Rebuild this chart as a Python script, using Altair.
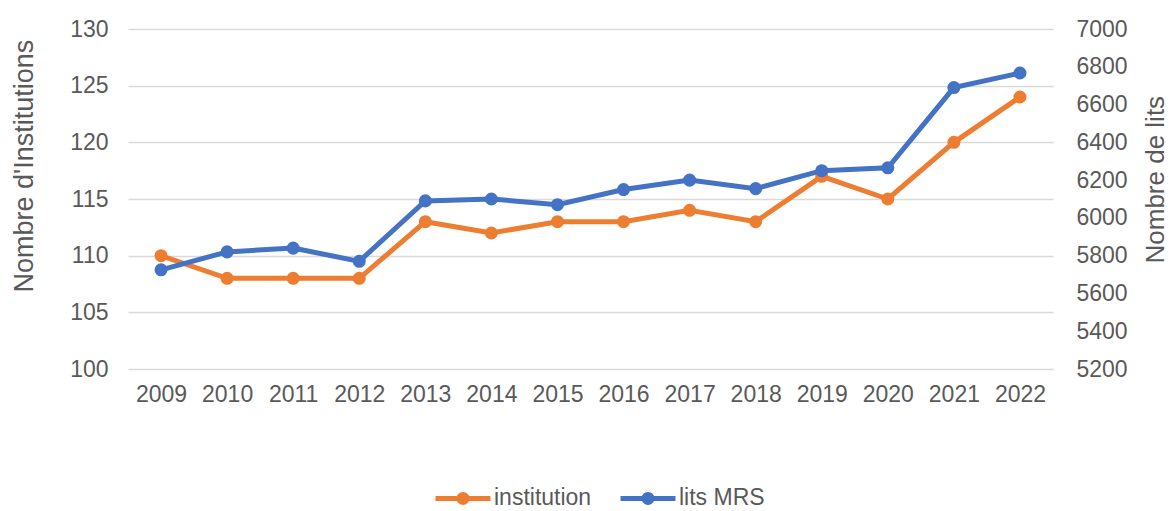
import altair as alt
import pandas as pd

years = ["2009", "2010", "2011", "2012", "2013", "2014", "2015",
         "2016", "2017", "2018", "2019", "2020", "2021", "2022"]
institution = [110, 108, 108, 108, 113, 112, 113, 113, 114, 113, 117, 115, 120, 124]
lits_mrs = [5725, 5820, 5840, 5770, 6090, 6100, 6070, 6150, 6200, 6155, 6250, 6265, 6690, 6767]

series_names = ["institution", "lits MRS"]
series_colors = ["#ED7D31", "#4472C4"]

df = pd.DataFrame({"year": years, "institution": institution, "lits MRS": lits_mrs})
long = df.melt(id_vars="year", var_name="series", value_name="value")

FONT = "Liberation Sans"
TXT = "#595959"

x_enc = alt.X("year:N", title=None, sort=years,
              scale=alt.Scale(type="point", padding=0.5),
              axis=alt.Axis(domain=False, ticks=False, labelAngle=0,
                            labelFontSize=23, labelColor=TXT, labelFont=FONT,
                            labelPadding=14, grid=False))

color_enc = alt.Color("series:N",
                      scale=alt.Scale(domain=series_names, range=series_colors),
                      legend=alt.Legend(title=None, orient="none", direction="horizontal",
                                        legendX=323, legendY=457,
                                        symbolType="M-3,0L3,0M-0.44,0A0.44,0.44,0,1,0,0.44,0A0.44,0.44,0,1,0,-0.44,0Z",
                                        symbolSize=336, symbolStrokeWidth=5,
                                        labelFontSize=23, labelColor=TXT, labelFont=FONT,
                                        labelOffset=19, columnPadding=18))

left_axis = alt.Axis(values=list(range(100, 131, 5)), domain=False, ticks=False,
                     labelFontSize=23, labelColor=TXT, labelFont=FONT, labelPadding=20,
                     grid=True, gridColor="#D9D9D9", gridWidth=1.5,
                     title="Nombre d'Institutions", titleFontSize=27, titleColor=TXT,
                     titleFont=FONT, titleFontWeight="normal",
                     titleAngle=270, titleAlign="left", titleBaseline="middle",
                     titleX=-104, titleY=263)

right_axis = alt.Axis(values=list(range(5200, 7001, 200)), domain=False, ticks=False,
                      orient="right", format="d",
                      labelFontSize=23, labelColor=TXT, labelFont=FONT, labelPadding=23,
                      grid=False,
                      title="Nombre de lits", titleFontSize=26, titleColor=TXT,
                      titleFont=FONT, titleFontWeight="normal",
                      titleAngle=270, titleAlign="left", titleBaseline="middle",
                      titleX=102, titleY=234)

base_inst = alt.Chart(long).transform_filter(alt.datum.series == "institution")
base_lits = alt.Chart(long).transform_filter(alt.datum.series == "lits MRS")

y_inst = alt.Y("value:Q", scale=alt.Scale(domain=[100, 130], zero=False, nice=False), axis=left_axis)
y_lits = alt.Y("value:Q", scale=alt.Scale(domain=[5200, 7000], zero=False, nice=False), axis=right_axis)

inst = alt.layer(
    base_inst.mark_line(strokeWidth=5).encode(x=x_enc, y=y_inst, color=color_enc),
    base_inst.mark_point(filled=True, size=170, opacity=1).encode(x=x_enc, y=y_inst, color=color_enc),
)
lits = alt.layer(
    base_lits.mark_line(strokeWidth=5).encode(x=x_enc, y=y_lits, color=color_enc),
    base_lits.mark_point(filled=True, size=170, opacity=1).encode(x=x_enc, y=y_lits, color=color_enc),
)

chart = alt.layer(inst, lits).resolve_scale(y="independent").properties(
    width=925, height=340,
    autosize=alt.AutoSizeParams(type="none"),
    padding={"left": 120, "top": 21, "right": 115, "bottom": 139},
).configure_view(stroke=None)

chart.save("out.html", embed_options={"renderer": "svg", "actions": False})
